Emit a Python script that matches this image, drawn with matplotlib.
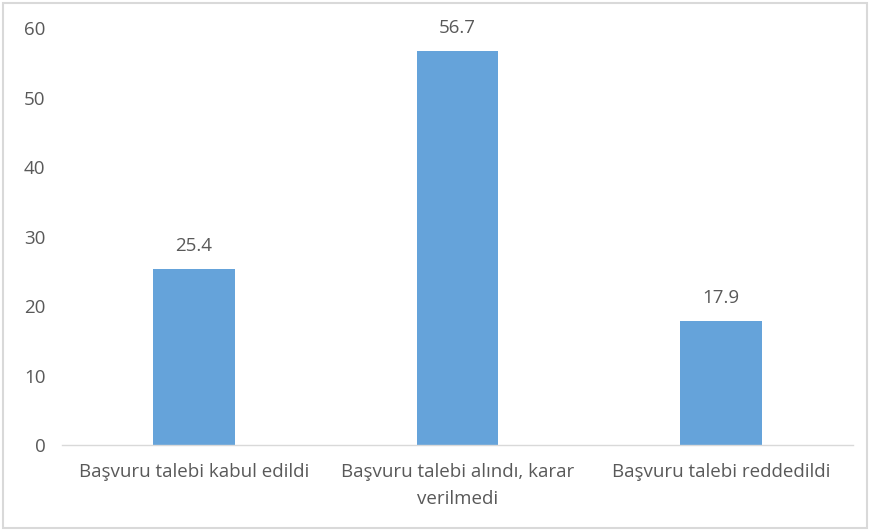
import matplotlib.pyplot as plt
from matplotlib.patches import Rectangle

categories = ["Başvuru talebi kabul edildi",
              "Başvuru talebi alındı, karar\nverilmedi",
              "Başvuru talebi reddedildi"]
values = [25.4, 56.7, 17.9]
yticks = [0, 10, 20, 30, 40, 50, 60]

text_color = '#595959'
plt.rcParams['font.family'] = ['Open Sans', 'DejaVu Sans']
fs = 13.5

fig = plt.figure(figsize=(8.7, 5.31), dpi=100)
ax = fig.add_axes([0.0713, 0.162, 0.909, 0.785])

x = range(len(categories))
ax.bar(x, values, width=0.31, color='#65A3DA')
for i, v in zip(x, values):
    ax.text(i, v + 2.0, f"{v:.1f}", ha='center', va='bottom',
            fontsize=fs, color=text_color)

ax.set_xlim(-0.5, 2.5)
ax.set_ylim(0, 60)
ax.set_yticks(yticks)
ax.set_xticks(list(x))
ax.set_xticklabels(categories, fontsize=fs, color=text_color,
                   linespacing=1.65, multialignment='center')
ax.tick_params(axis='y', length=0, labelsize=fs, labelcolor=text_color, pad=12)
ax.tick_params(axis='x', length=0, pad=13)

for side in ['top', 'right', 'left']:
    ax.spines[side].set_visible(False)
ax.spines['bottom'].set_color('#D9D9D9')
ax.spines['bottom'].set_linewidth(1)

# outer chart border
fig.patches.append(Rectangle((0.004, 0.006), 0.992, 0.988, transform=fig.transFigure,
                             fill=False, edgecolor='#D9D9D9', linewidth=1.5))

fig.savefig('out.png', dpi=100)
